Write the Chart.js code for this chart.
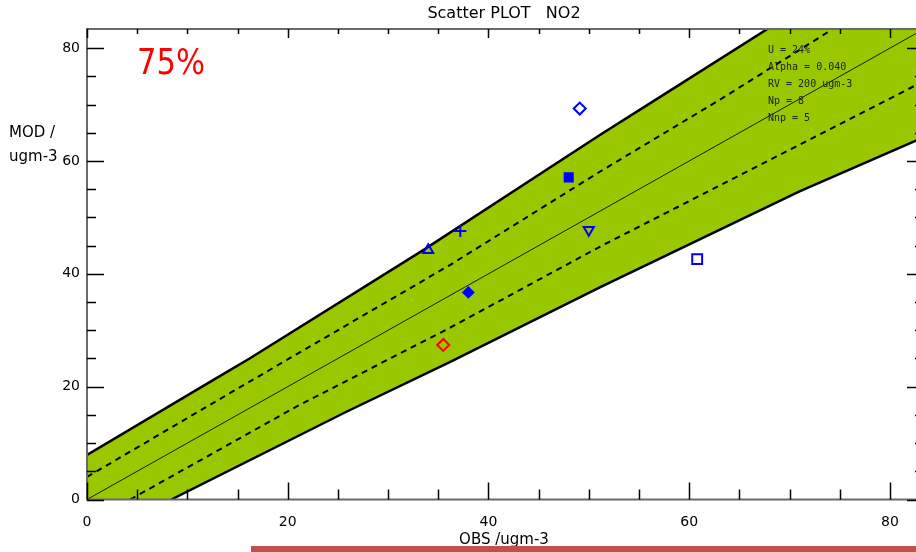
<!DOCTYPE html>
<html><head><meta charset="utf-8">
<script src="https://cdn.jsdelivr.net/npm/chart.js@4.4.1/dist/chart.umd.min.js"></script>
<style>
html,body{margin:0;padding:0;background:#fff;overflow:hidden;width:916px;height:552px;}
#wrap{position:absolute;left:0;top:0;width:940px;height:552px;}
#redbar{position:absolute;left:251px;top:546px;width:665px;height:6px;background:#c0504d;}
</style></head><body>
<div id="wrap"><canvas id="c" width="940" height="552"></canvas></div>
<div id="redbar"></div>
<script>
// ---- data ----
const AXIS_MIN = 0, AXIS_MAX = 83.4;
const tickValues = [0, 20, 40, 60, 80];
const tickLabels = ['0', '20', '40', '60', '80'];
const minorStep = 5;

// observations / model values for the 8 stations
const obsValues = [35.5, 38.0, 34.0, 37.2, 48.0, 49.1, 50.0, 60.8];
const modValues = [27.4, 36.7, 44.2, 47.6, 57.1, 69.3, 47.8, 42.6];
const pointStyles = ['rectRot', 'rectRot', 'triangle', 'cross', 'rect', 'rectRot', 'triangle', 'rect'];
const pointFilled = [false, true, false, false, true, false, false, false];
const pointColors = ['#ff0000', '#0000ff', '#0000ff', '#0000ff', '#0000ff', '#0000ff', '#0000ff', '#0000ff'];
const pointRotation = [0, 0, 0, 0, 0, 0, 180, 0];
const pointSizes = [6, 5, 5.8, 6, 5.7, 6, 5.8, 7];

// acceptance band (thick solid) boundaries
const bandUpperX = [0, 12.6, 16.2, 33.5, 51.1, 56.6, 67.8];
const bandUpperY = [7.9, 21.2, 25.0, 44.2, 64.6, 70.8, 83.4];
const bandLowerX = [8.4, 25.9, 36.2, 51.1, 71.0, 82.6, 83.4];
const bandLowerY = [0, 15.6, 24.4, 37.6, 54.6, 63.6, 64.2];
// dashed lines
const dashUpperX = [0, 16.2, 36.2, 51.1, 63.0, 73.7, 74.3];
const dashUpperY = [4.0, 20.9, 41.6, 58.1, 70.8, 82.7, 83.4];
const dashLowerX = [4.3, 20.9, 35.8, 51.1, 70.7, 82.0, 83.4];
const dashLowerY = [0, 16.5, 30.1, 44.8, 62.6, 72.9, 74.2];
// 1:1 line
const diagX = [0, 83.4];
const diagY = [0, 83.4];

const statsLines = ['U = 24%', 'Alpha = 0.040', 'RV = 200 ugm-3', 'Np = 8', 'Nnp = 5'];

// ---- build datasets ----
const zip = (xs, ys) => xs.map((v, i) => ({x: v, y: ys[i]}));
const bandPolygon = zip(bandUpperX, bandUpperY)
  .concat([{x: AXIS_MAX, y: AXIS_MAX}])
  .concat(zip(bandLowerX, bandLowerY).reverse())
  .concat([{x: AXIS_MIN, y: AXIS_MIN}]);

const GREEN = '#99c800';

const datasets = [
  {label: 'points', data: zip(obsValues, modValues), showLine: false, order: 0,
   pointStyle: pointStyles, pointRadius: pointSizes, pointHoverRadius: pointSizes,
   pointRotation: pointRotation, rotation: pointRotation,
   pointBackgroundColor: pointColors.map((c, i) => pointFilled[i] ? c : 'rgba(0,0,0,0)'),
   pointBorderColor: pointColors, pointBorderWidth: 2},
  {label: 'diag', data: zip(diagX, diagY), borderColor: '#1a1a00', borderWidth: 1, pointRadius: 0, order: 2, fill: false},
  {label: 'dashU', data: zip(dashUpperX, dashUpperY), borderColor: '#000', borderWidth: 2, borderDash: [6, 5], pointRadius: 0, order: 3, fill: false},
  {label: 'dashL', data: zip(dashLowerX, dashLowerY), borderColor: '#000', borderWidth: 2, borderDash: [6, 5], pointRadius: 0, order: 3, fill: false},
  {label: 'bandU', data: zip(bandUpperX, bandUpperY), borderColor: '#000', borderWidth: 2.5, pointRadius: 0, order: 4, fill: false},
  {label: 'bandL', data: zip(bandLowerX, bandLowerY), borderColor: '#000', borderWidth: 2.5, pointRadius: 0, order: 4, fill: false},
  {label: 'band', data: bandPolygon, borderWidth: 0, borderColor: GREEN, backgroundColor: GREEN, pointRadius: 0, order: 10, fill: 'shape'}
];

const deco = {
  id: 'deco',
  afterDatasetsDraw(chart) {
    const {ctx, chartArea: a, scales: {x, y}} = chart;
    ctx.save();
    // frame
    ctx.strokeStyle = '#6a6a6a';
    ctx.lineWidth = 2;
    ctx.strokeRect(a.left, a.top, a.right - a.left, a.bottom - a.top);
    // ticks
    ctx.strokeStyle = '#000';
    ctx.lineWidth = 1.5;
    ctx.beginPath();
    for (let v = AXIS_MIN; v <= AXIS_MAX; v += minorStep) {
      const major = tickValues.includes(v);
      const px = Math.round(x.getPixelForValue(v)) + 0.5;
      const py = Math.round(y.getPixelForValue(v)) + 0.5;
      const lenSide = major ? 17 : 9;
      const lenTop = major ? 9 : 5;
      const lenBot = major ? 17 : 10;
      ctx.moveTo(px, a.bottom); ctx.lineTo(px, a.bottom - lenBot);
      ctx.moveTo(px, a.top); ctx.lineTo(px, a.top + lenTop);
      ctx.moveTo(a.left, py); ctx.lineTo(a.left + lenSide, py);
      ctx.moveTo(a.right, py); ctx.lineTo(a.right - lenSide, py);
    }
    ctx.stroke();

    // title
    ctx.fillStyle = '#000';
    ctx.textAlign = 'center';
    ctx.textBaseline = 'middle';
    ctx.font = '16px "DejaVu Sans"';
    ctx.fillText('Scatter PLOT   NO2', 504, 14);
    // x axis title
    ctx.font = '15px "DejaVu Sans"';
    ctx.fillText('OBS /ugm-3', 504, 540);
    // y axis title
    ctx.textAlign = 'left';
    ctx.fillText('MOD /', 9, 133);
    ctx.fillText('ugm-3', 9, 157);

    // 75%
    ctx.save();
    ctx.font = '36px "DejaVu Sans"';
    ctx.fillStyle = '#ff0000';
    const w = ctx.measureText('75%').width;
    ctx.translate(137, 65);
    ctx.scale(68 / w, 1);
    ctx.textAlign = 'left';
    ctx.fillText('75%', 0, 0);
    ctx.restore();

    // stats block
    ctx.font = '10px "DejaVu Sans Mono"';
    ctx.fillStyle = '#222';
    ctx.textAlign = 'left';
    statsLines.forEach((t, i) => ctx.fillText(t, 768, 50 + i * 17.1));
    ctx.restore();
  }
};

const tickOpts = (pad) => ({
  color: '#000', font: {family: 'DejaVu Sans', size: 14}, padding: pad,
  autoSkip: false, maxRotation: 0, includeBounds: false,
  callback: (v, i) => tickLabels[i]
});

new Chart(document.getElementById('c'), {
  type: 'line',
  data: {datasets},
  options: {
    responsive: false, animation: false, devicePixelRatio: 1,
    layout: {padding: {top: 29, right: 16, left: 0, bottom: 0}},
    plugins: {legend: {display: false}, title: {display: false}, tooltip: {enabled: false}},
    scales: {
      x: {type: 'linear', min: AXIS_MIN, max: AXIS_MAX,
          grid: {display: false, drawTicks: false}, border: {display: false},
          afterBuildTicks: s => { s.ticks = tickValues.map(v => ({value: v})); },
          afterFit: s => { s.height = 52.5; },
          ticks: tickOpts(14)},
      y: {type: 'linear', min: AXIS_MIN, max: AXIS_MAX,
          grid: {display: false, drawTicks: false}, border: {display: false},
          afterBuildTicks: s => { s.ticks = tickValues.map(v => ({value: v})); },
          afterFit: s => { s.width = 87; },
          ticks: tickOpts(7)}
    }
  },
  plugins: [deco]
});
</script>
</body></html>
